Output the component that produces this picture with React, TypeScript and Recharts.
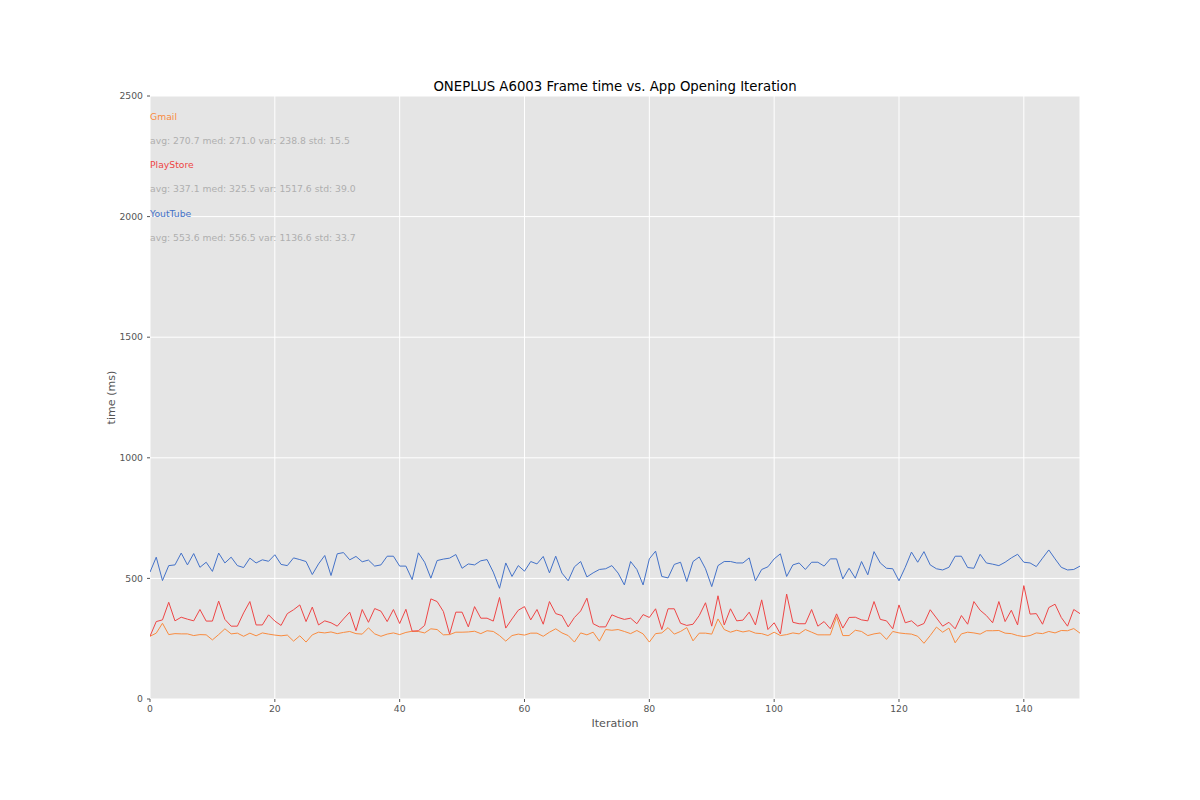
import React from 'react';
import { LineChart, Line, XAxis, YAxis, CartesianGrid, ReferenceDot } from 'recharts';

const gmail = [
  260, 273, 314, 267, 271, 270, 270, 263, 267, 266, 245, 267, 291, 270, 273, 260, 273, 262, 274, 269,
  265, 262, 265, 240, 262, 236, 266, 277, 274, 278, 271, 276, 280, 271, 269, 295, 270, 260, 269, 274,
  267, 276, 281, 280, 274, 291, 288, 266, 267, 277, 277, 278, 281, 271, 283, 280, 263, 240, 263, 269,
  265, 273, 273, 260, 277, 291, 274, 263, 236, 274, 266, 277, 240, 288, 285, 288, 280, 271, 284, 270,
  236, 271, 274, 296, 269, 280, 296, 241, 273, 273, 269, 332, 288, 277, 285, 278, 283, 273, 271, 263,
  277, 263, 267, 274, 270, 288, 277, 266, 266, 266, 341, 263, 263, 285, 280, 263, 270, 274, 247, 280,
  274, 271, 269, 260, 231, 263, 298, 277, 294, 233, 270, 277, 274, 269, 283, 283, 284, 273, 271, 263,
  259, 263, 274, 271, 280, 274, 284, 283, 292, 273,
];

const playStore = [
  260, 321, 328, 401, 324, 339, 331, 324, 371, 323, 323, 406, 330, 302, 302, 357, 404, 307, 307, 349,
  323, 305, 354, 370, 390, 321, 381, 307, 324, 316, 302, 332, 360, 283, 371, 318, 375, 364, 321, 371,
  313, 372, 281, 283, 305, 415, 404, 363, 269, 360, 360, 299, 383, 335, 335, 323, 421, 294, 332, 368,
  383, 328, 371, 310, 404, 354, 346, 299, 338, 365, 418, 312, 299, 299, 349, 338, 330, 335, 312, 350,
  338, 374, 288, 374, 374, 314, 305, 310, 346, 399, 302, 428, 307, 374, 324, 327, 360, 307, 411, 288,
  316, 270, 435, 318, 312, 312, 371, 302, 321, 291, 353, 294, 338, 339, 328, 324, 404, 330, 324, 291,
  390, 316, 324, 302, 313, 370, 336, 302, 318, 291, 346, 310, 404, 368, 346, 316, 404, 321, 368, 307,
  470, 352, 354, 310, 379, 393, 338, 302, 371, 354,
];

const youTube = [
  526, 588, 491, 553, 556, 605, 556, 603, 546, 567, 529, 605, 564, 588, 553, 545, 584, 564, 577, 571,
  598, 558, 553, 585, 578, 570, 516, 560, 595, 512, 602, 607, 577, 591, 569, 576, 551, 556, 592, 592,
  551, 551, 495, 606, 567, 501, 574, 580, 584, 599, 542, 560, 556, 573, 578, 526, 459, 564, 508, 553,
  530, 570, 560, 591, 523, 592, 522, 490, 548, 570, 506, 523, 537, 540, 553, 522, 473, 570, 537, 473,
  581, 613, 508, 502, 558, 567, 487, 570, 589, 540, 466, 553, 570, 570, 564, 564, 585, 490, 537, 548,
  581, 602, 508, 556, 564, 537, 567, 567, 551, 581, 581, 498, 542, 501, 570, 515, 611, 564, 542, 540,
  490, 546, 609, 567, 611, 556, 540, 535, 546, 592, 592, 545, 542, 600, 564, 559, 553, 567, 585, 600,
  567, 564, 549, 584, 618, 581, 546, 535, 537, 551,
];

const xTicks = [0, 20, 40, 60, 80, 100, 120, 140];
const yTicks = [0, 500, 1000, 1500, 2000, 2500];

const seriesNames = ['Gmail', 'PlayStore', 'YoutTube'];
const seriesStats = [
  'avg: 270.7 med: 271.0 var: 238.8 std: 15.5',
  'avg: 337.1 med: 325.5 var: 1517.6 std: 39.0',
  'avg: 553.6 med: 556.5 var: 1136.6 std: 33.7',
];
const nameYs = [2400, 2200, 2000];
const statYs = [2300, 2100, 1900];

const colors = ['#F98B3F', '#EE4646', '#4472C8'];
const FONT = '"DejaVu Sans", sans-serif';

const data = gmail.map((g, i) => ({
  iter: i,
  gmail: g,
  playStore: playStore[i],
  youTube: youTube[i],
}));

const makeText = (txt: string, color: string) => (props: any) => (
  <text
    x={props.cx}
    y={props.cy}
    fill={color}
    fontSize={9.25}
    fontFamily={FONT}
    textAnchor="start"
  >
    {txt}
  </text>
);

export default function App() {
  return (
    <div style={{ position: 'absolute', left: 0, top: 0, width: 1200, height: 800, background: '#fff' }}>
      <LineChart
        width={1200}
        height={800}
        data={data}
        margin={{ top: 96, right: 120, left: 100, bottom: 61 }}
      >
        <CartesianGrid stroke="#ffffff" strokeWidth={1} fill="#E5E5E5" fillOpacity={1} />
        <XAxis
          dataKey="iter"
          type="number"
          domain={[0, 149]}
          ticks={xTicks}
          allowDataOverflow
          height={40}
          axisLine={false}
          tickLine={{ stroke: '#555555' }}
          tickSize={3}
          tickMargin={3}
          tick={{ fill: '#555555', fontSize: 9.25, fontFamily: FONT }}
          label={{
            value: 'Iteration',
            position: 'insideBottom',
            offset: 12,
            fill: '#555555',
            fontSize: 11.1,
            fontFamily: FONT,
          }}
        />
        <YAxis
          type="number"
          domain={[0, 2500]}
          ticks={yTicks}
          allowDataOverflow
          width={50}
          axisLine={false}
          tickLine={{ stroke: '#555555' }}
          tickSize={3}
          tickMargin={4}
          tick={{ fill: '#555555', fontSize: 9.25, fontFamily: FONT }}
          label={{
            content: () => (
              <text
                x={115}
                y={397.5}
                transform="rotate(-90 115 397.5)"
                textAnchor="middle"
                fill="#555555"
                fontSize={11.1}
                fontFamily={FONT}
              >
                time (ms)
              </text>
            ),
          }}
        />
        <Line type="linear" dataKey="gmail" stroke={colors[0]} strokeWidth={1} dot={false} isAnimationActive={false} />
        <Line type="linear" dataKey="playStore" stroke={colors[1]} strokeWidth={1} dot={false} isAnimationActive={false} />
        <Line type="linear" dataKey="youTube" stroke={colors[2]} strokeWidth={1} dot={false} isAnimationActive={false} />
        {seriesNames.map((n, i) => (
          <ReferenceDot key={'n' + i} x={0} y={nameYs[i]} r={0} shape={makeText(n, colors[i])} />
        ))}
        {seriesStats.map((s, i) => (
          <ReferenceDot key={'s' + i} x={0} y={statYs[i]} r={0} shape={makeText(s, '#AFAFAF')} />
        ))}
      </LineChart>
      <svg
        width={1200}
        height={800}
        style={{ position: 'absolute', left: 0, top: 0, pointerEvents: 'none' }}
      >
        <text x={615} y={90.7} textAnchor="middle" fill="#000000" fontSize={13.3} fontFamily={FONT}>
          ONEPLUS A6003 Frame time vs. App Opening Iteration
        </text>
      </svg>
    </div>
  );
}
